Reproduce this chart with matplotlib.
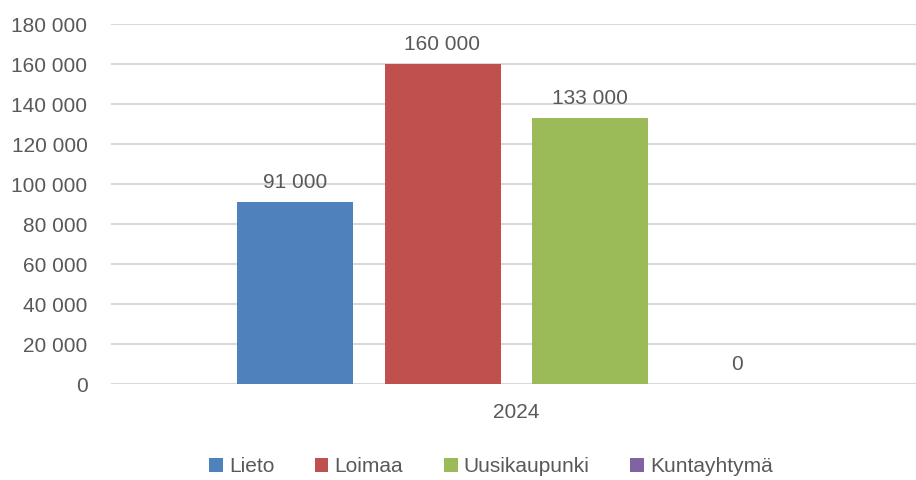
import matplotlib
matplotlib.use("Agg")
import matplotlib.pyplot as plt
from matplotlib.patches import Patch

plt.rcParams['font.family'] = ['Liberation Sans', 'DejaVu Sans']

categories = ["2024"]
series_names = ["Lieto", "Loimaa", "Uusikaupunki", "Kuntayhtymä"]
series_values = [91000, 160000, 133000, 0]
series_colors = ["#4F81BD", "#C0504D", "#9BBB59", "#8064A2"]
y_ticks = [0, 20000, 40000, 60000, 80000, 100000, 120000, 140000, 160000, 180000]

def fmt(v):
    return f"{int(v):,}".replace(",", " ")

W, H = 916, 480
fig = plt.figure(figsize=(W/100, H/100), dpi=100)
left, right = 111, 921
bottom, top = 384, 24
ax = fig.add_axes([left/W, 1-bottom/H, (right-left)/W, (bottom-top)/H])

txt = "#595959"
fs = 15
bar_w = 116/810
pitch = 147/810
n = len(series_names)
for i, (name, v, c) in enumerate(zip(series_names, series_values, series_colors)):
    x = (i - (n-1)/2) * pitch
    ax.bar(x, v, width=bar_w, color=c, zorder=3)
    ax.annotate(fmt(v), (x, v), xytext=(0, 7), textcoords="offset points",
                ha="center", va="bottom", fontsize=fs, color=txt)

ax.set_xlim(-0.5, 0.5)
ax.set_ylim(0, 180000)
ax.set_yticks(y_ticks)
ax.set_yticklabels([fmt(t) for t in y_ticks], fontsize=fs, color=txt)
ax.set_xticks([0])
ax.set_xticklabels(categories, fontsize=fs, color=txt)
ax.tick_params(axis='y', length=0, pad=17)
ax.tick_params(axis='x', length=0, pad=14)
for s in ax.spines.values():
    s.set_visible(False)
ax.grid(axis='y', color="#d9d9d9", linewidth=1.5, zorder=0)
ax.set_axisbelow(True)

handles = [Patch(facecolor=c, label=nm) for nm, c in zip(series_names, series_colors)]
fig.legend(handles=handles, loc='center', bbox_to_anchor=(491/W, 1-467/H), ncol=4,
           frameon=False, fontsize=fs, handlelength=0.65, handleheight=0.65,
           handletextpad=0.3, columnspacing=1.95, labelcolor=txt)

fig.savefig("out.png", dpi=100)
